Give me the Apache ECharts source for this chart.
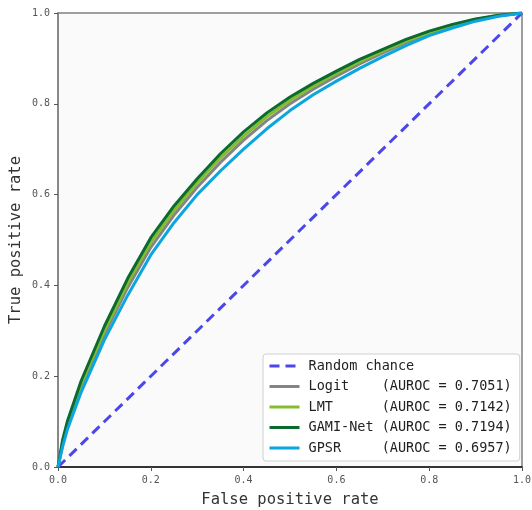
<!DOCTYPE html>
<html>
<head>
<meta charset="utf-8">
<script src="https://cdn.jsdelivr.net/npm/echarts@6/dist/echarts.min.js"></script>
<style>html,body{margin:0;padding:0;background:#fff}#c{width:532px;height:510px}</style>
</head>
<body>
<div id="c"></div>
<script>
const fpr = [0, 0.01, 0.02, 0.05, 0.1, 0.15, 0.2, 0.25, 0.3, 0.35, 0.4, 0.45, 0.5, 0.55, 0.6, 0.65, 0.7, 0.75, 0.8, 0.85, 0.9, 0.95, 1.0];
const tprGami  = [0, 0.06, 0.10, 0.19, 0.31, 0.415, 0.505, 0.575, 0.635, 0.69, 0.738, 0.78, 0.815, 0.845, 0.872, 0.898, 0.92, 0.942, 0.96, 0.975, 0.987, 0.995, 1];
const tprLmt   = [0, 0.055, 0.095, 0.183, 0.30, 0.405, 0.495, 0.565, 0.626, 0.681, 0.729, 0.772, 0.808, 0.839, 0.867, 0.893, 0.916, 0.938, 0.957, 0.973, 0.986, 0.995, 1];
const tprLogit = [0, 0.05, 0.09, 0.176, 0.292, 0.395, 0.484, 0.555, 0.616, 0.671, 0.72, 0.763, 0.80, 0.832, 0.861, 0.888, 0.912, 0.935, 0.955, 0.971, 0.985, 0.994, 1];
const tprGpsr  = [0, 0.045, 0.082, 0.165, 0.28, 0.378, 0.467, 0.538, 0.60, 0.652, 0.70, 0.745, 0.785, 0.82, 0.85, 0.878, 0.904, 0.928, 0.95, 0.967, 0.982, 0.993, 1];
const randomX = [0, 1];
const randomY = [0, 1];
const seriesNames = ['Random chance', 'Logit', 'LMT', 'GAMI-Net', 'GPSR'];
const legendLabels = {
  'Random chance': 'Random chance',
  'Logit': 'Logit    (AUROC = 0.7051)',
  'LMT': 'LMT      (AUROC = 0.7142)',
  'GAMI-Net': 'GAMI-Net (AUROC = 0.7194)',
  'GPSR': 'GPSR     (AUROC = 0.6957)'
};
const mono = '"DejaVu Sans Mono", "Liberation Mono", monospace';
const zip = (xs, ys) => xs.map((x, i) => [x, ys[i]]);
const chart = echarts.init(document.getElementById('c'), null, {renderer: 'canvas'});
function line(name, data, color, dash) {
  return {
    name, type: 'line', data, symbol: 'none', smooth: false, animation: false,
    lineStyle: {color, width: 3, type: dash || 'solid'}, itemStyle: {color},
    z: 3
  };
}
chart.setOption({
  backgroundColor: '#ffffff',
  animation: false,
  grid: {left: 58, right: 10, top: 13, bottom: 43, show: true, backgroundColor: '#fafafa', borderColor: '#808080', borderWidth: 1.5, outerBoundsMode: 'none', containLabel: false},
  xAxis: {
    type: 'value', min: 0, max: 1, interval: 0.2,
    name: 'False positive rate', nameLocation: 'middle', nameGap: 25,
    nameTextStyle: {fontFamily: mono, fontSize: 15.5, color: '#333'},
    axisLine: {show: true, onZero: false, lineStyle: {color: '#111', width: 1.5}},
    axisTick: {show: true, length: 4, lineStyle: {color: '#555'}},
    axisLabel: {fontFamily: mono, fontSize: 10, color: '#555', margin: 8, formatter: v => v.toFixed(1)},
    splitLine: {show: false}
  },
  yAxis: {
    type: 'value', min: 0, max: 1, interval: 0.2,
    name: 'True positive rate', nameLocation: 'middle', nameGap: 34, nameMoveOverlap: false,
    nameTextStyle: {fontFamily: mono, fontSize: 15.5, color: '#333'},
    axisLine: {show: true, onZero: false, lineStyle: {color: '#808080', width: 1.5}},
    axisTick: {show: true, length: 4, lineStyle: {color: '#555'}},
    axisLabel: {fontFamily: mono, fontSize: 10, color: '#555', margin: 8, formatter: v => v.toFixed(1)},
    splitLine: {show: false}
  },
  legend: {
    data: seriesNames, orient: 'vertical', left: 263, top: 354,
    backgroundColor: 'rgba(255,255,255,0.85)', borderColor: '#d0d0d0', borderWidth: 1, borderRadius: 3,
    padding: [5, 8, 6, 5], itemGap: 6.5, itemWidth: 30, itemHeight: 14,
    itemStyle: {color: 'rgba(0,0,0,0)', borderColor: 'rgba(0,0,0,0)', borderWidth: 0, opacity: 0},
    lineStyle: {width: 3},
    textStyle: {fontFamily: mono, fontSize: 13.5, color: '#222', padding: [0, 0, 0, 4]},
    formatter: n => legendLabels[n]
  },
  series: [
    line('Random chance', zip(randomX, randomY), '#4b47ea', [10, 6]),
    line('Logit', zip(fpr, tprLogit), '#848484'),
    line('LMT', zip(fpr, tprLmt), '#84bd2b'),
    line('GAMI-Net', zip(fpr, tprGami), '#0b6a30'),
    line('GPSR', zip(fpr, tprGpsr), '#0ba5df')
  ]
});
</script>
</body>
</html>
